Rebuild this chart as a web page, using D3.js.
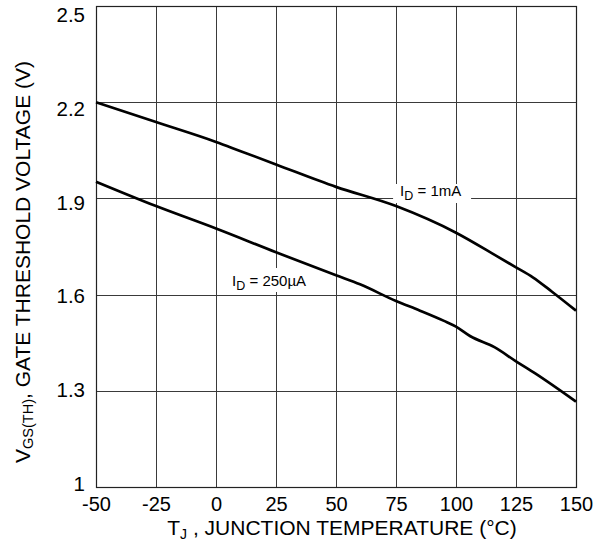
<!DOCTYPE html>
<html>
<head>
<meta charset="utf-8">
<script src="https://cdn.jsdelivr.net/npm/d3@7"></script>
<style>
  body { margin: 0; background: #fff; }
  text { font-family: "Liberation Sans", Arial, sans-serif; fill: #000; }
</style>
</head>
<body>
<svg id="chart"></svg>
<script>
// temperature (°C) and threshold voltage (V)
var temp1mA = [-50, -25, 0, 10, 25, 50, 75, 100, 117, 125, 132, 140, 150];
var vth1mA  = [2.200, 2.138, 2.076, 2.048, 2.006, 1.936, 1.876, 1.793, 1.720, 1.685, 1.654, 1.609, 1.550];

var temp250uA = [-50, -25, 0, 25, 50, 60, 75, 85, 95, 100, 106, 116, 125, 133, 150];
var vth250uA  = [1.952, 1.876, 1.806, 1.732, 1.660, 1.632, 1.580, 1.550, 1.518, 1.500, 1.470, 1.436, 1.392, 1.354, 1.266];

var xTicks = [-50, -25, 0, 25, 50, 75, 100, 125, 150];
var yTicks = [1, 1.3, 1.6, 1.9, 2.2, 2.5];
var yTickLabels = ["1", "1.3", "1.6", "1.9", "2.2", "2.5"];

var W = 608, H = 542;
var margin = {top: 6, right: 32, bottom: 55, left: 96},
    w = W - margin.left - margin.right,
    h = H - margin.top - margin.bottom;

var svg = d3.select("#chart").attr("width", W).attr("height", H);
var g = svg.append("g").attr("transform", `translate(${margin.left}, ${margin.top})`);

var x = d3.scaleLinear().domain([-50, 150]).range([0, w]);
var y = d3.scaleLinear().domain([1, 2.5]).range([h, 0]);
// tick labels sit slightly inside the frame at both ends
var yLab = d3.scaleLinear().domain([1, 2.5]).range([h - 4, 8.5]);

// grid
g.selectAll(".vgrid").data(xTicks).join("line").attr("class", "vgrid")
  .attr("x1", d => Math.round(x(d)) + 0.5).attr("x2", d => Math.round(x(d)) + 0.5)
  .attr("y1", 0).attr("y2", h)
  .attr("stroke", "#3a3a3a").attr("stroke-width", 1);
g.selectAll(".hgrid").data(yTicks).join("line").attr("class", "hgrid")
  .attr("x1", 0).attr("x2", w)
  .attr("y1", d => Math.round(y(d)) + 0.5).attr("y2", d => Math.round(y(d)) + 0.5)
  .attr("stroke", "#3a3a3a").attr("stroke-width", 1);
g.append("rect").attr("x", 0.5).attr("y", 0.5).attr("width", w).attr("height", h)
  .attr("fill", "none").attr("stroke", "#222").attr("stroke-width", 1.2);

// x axis labels
var xAxis = g.append("g").attr("transform", `translate(0, ${h})`)
  .call(d3.axisBottom(x).tickValues(xTicks).tickSize(0).tickPadding(0).tickFormat(d => d));
xAxis.select(".domain").remove();
xAxis.selectAll("text").attr("y", 24).attr("dy", 0)
  .style("font-size", "20px").style("font-family", "Liberation Sans, Arial, sans-serif");

// y axis labels
var yAxis = g.append("g")
  .call(d3.axisLeft(yLab).tickValues(yTicks).tickSize(0).tickPadding(11).tickFormat((d, i) => yTickLabels[i]));
yAxis.select(".domain").remove();
yAxis.selectAll("text").attr("dy", "0.36em")
  .style("font-size", "20.5px").style("font-family", "Liberation Sans, Arial, sans-serif");

// label boxes and labels (drawn before curves so curves stay on top)
function label(tx, vy, box, main, sub, rest) {
  var px = x(tx), py = y(vy);
  g.append("rect").attr("x", px + box[0]).attr("y", py + box[1])
    .attr("width", box[2]).attr("height", box[3]).attr("fill", "#fff");
  var t = g.append("text").attr("x", px).attr("y", py).style("font-size", "15px");
  t.append("tspan").text(main);
  t.append("tspan").attr("dy", 4).style("font-size", "12.5px").text(sub);
  t.append("tspan").attr("dy", -4).text(rest);
}
label(76.7, 1.9075, [-7, -12, 78, 19], "I", "D", " = 1mA");
label(6.7, 1.6268, [-4, -18, 86, 24], "I", "D", " = 250\u00b5A");

// curves
var line = d3.line().x(d => x(d[0])).y(d => y(d[1])).curve(d3.curveMonotoneX);
g.append("path").datum(d3.zip(temp1mA, vth1mA)).attr("d", line)
  .attr("fill", "none").attr("stroke", "#000").attr("stroke-width", 2.7);
g.append("path").datum(d3.zip(temp250uA, vth250uA)).attr("d", line)
  .attr("fill", "none").attr("stroke", "#000").attr("stroke-width", 2.7);

// x title
var xt = svg.append("text").attr("x", 342).attr("y", 534.5).attr("text-anchor", "middle")
  .style("font-size", "21px");
xt.append("tspan").text("T");
xt.append("tspan").attr("dy", 4.5).style("font-size", "14px").text("J");
xt.append("tspan").attr("dy", -4.5).text(" , JUNCTION TEMPERATURE (\u00b0C)");

// y title
var yt = svg.append("text").attr("transform", "translate(29.5, 262) rotate(-90)")
  .attr("text-anchor", "middle").style("font-size", "21px");
yt.append("tspan").text("V");
yt.append("tspan").attr("dy", 3).style("font-size", "14.5px").text("GS(TH)");
yt.append("tspan").attr("dy", -3).text(", GATE THRESHOLD VOLTAGE (V)");
</script>
</body>
</html>
